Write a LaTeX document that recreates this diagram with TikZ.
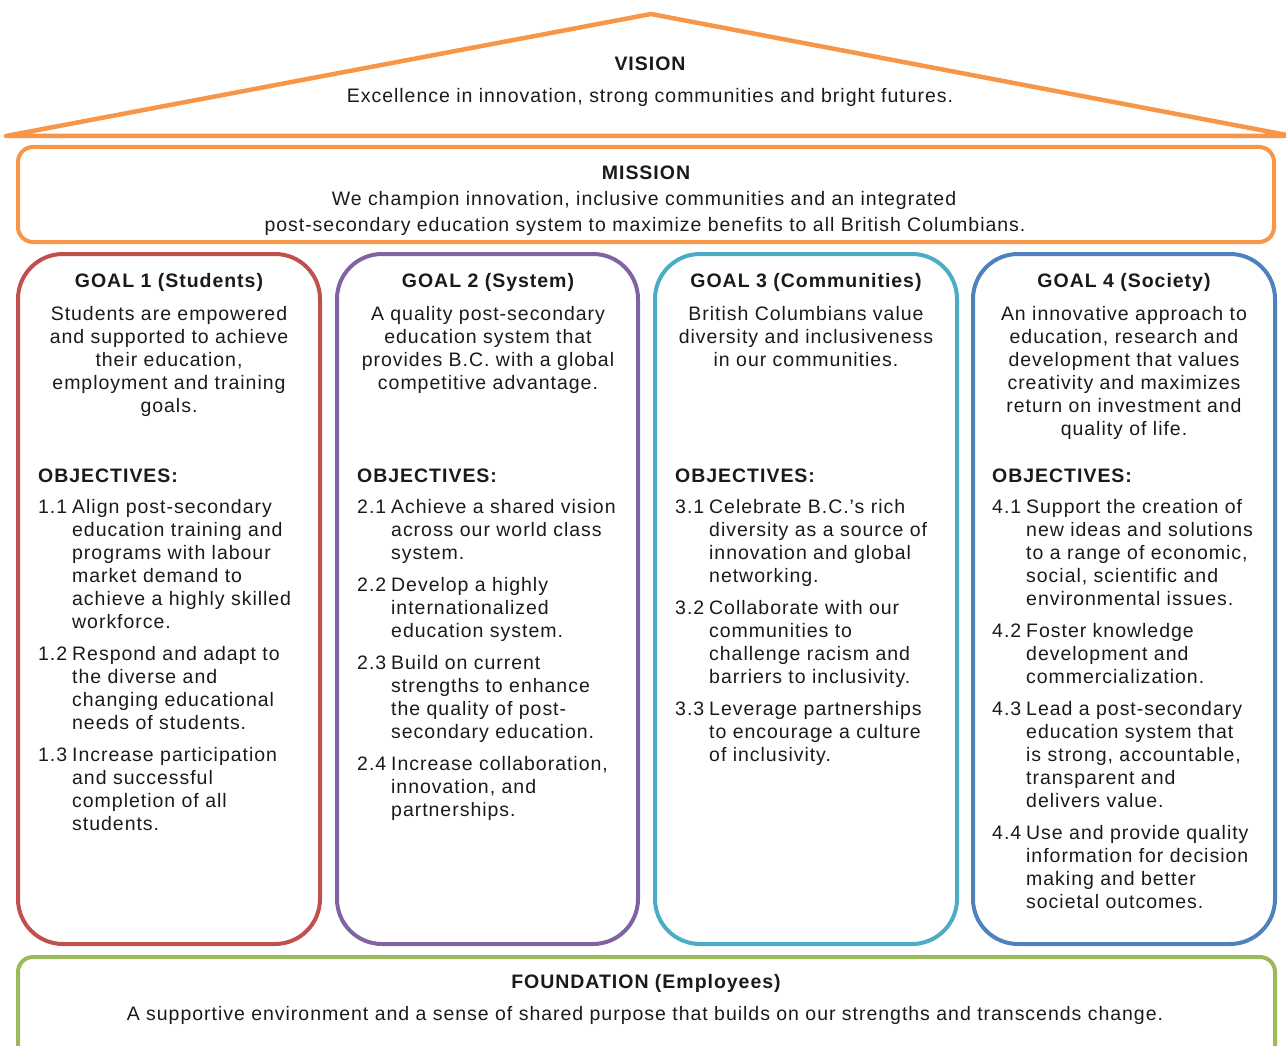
\documentclass[tikz,border=0pt]{standalone}
\usepackage{fontspec}
\setmainfont{Liberation Sans}[LetterSpace=5]
\definecolor{cOrange}{HTML}{F79646}
\definecolor{cRed}{HTML}{C0504D}
\definecolor{cPurple}{HTML}{8064A2}
\definecolor{cCyan}{HTML}{4BACC6}
\definecolor{cBlue}{HTML}{4F81BD}
\definecolor{cGreen}{HTML}{9BBB59}
\definecolor{ink}{HTML}{1A1A1A}
\tikzset{
  txt/.style={inner sep=0pt, font=\fontsize{19.5}{23}\selectfont, text=ink},
  btxt/.style={inner sep=0pt, font=\fontsize{19.5}{23}\selectfont\bfseries, text=ink},
  frame/.style={line width=4pt, rounded corners=15pt},
  goalframe/.style={line width=4pt, rounded corners=45pt},
}
% lines: name, x, y of first baseline, anchor, list of lines
\newcommand\txtlines[5]{%
  \foreach \t [count=\i from 0] in {#5}{%
    \node[txt, anchor=#4] (#1-\i) at ({#2},{#3+23*\i}) {\t};}}
% objective: name, x, y, number, lines
\newcommand\objective[5]{%
  \node[txt, anchor=base west] (#1-n) at ({#2},{#3}) {#4};
  \txtlines{#1}{#2+34}{#3}{base west}{#5}}
\begin{document}
\begin{tikzpicture}[x=1pt,y=-1pt]
\useasboundingbox (0,0) rectangle (1286,1046);
\clip (0,0) rectangle (1286,1046);

% ---------- roof ----------
\coordinate (roofL) at (6,136);
\coordinate (apex) at (651,14);
\coordinate (roofR) at (1292,136);
\draw[cOrange, line width=4.5pt, line join=round] (roofL) -- (apex) -- (roofR) -- cycle;
\node[btxt, anchor=base] (vision) at (650,71) {VISION};
\node[txt, anchor=base] (visiontxt) at (650,103) {Excellence in innovation, strong communities and bright futures.};

% ---------- mission ----------
\draw[frame, draw=cOrange] (18,147) rectangle (1274,242);
\node[btxt, anchor=base] (mission) at (646,179) {MISSION};
\node[txt, anchor=base] (mission1) at (644,205) {We champion innovation, inclusive communities and an integrated};
\node[txt, anchor=base] (mission2) at (645,231) {post-secondary education system to maximize benefits to all British Columbians.};

% ---------- goal frames ----------
\draw[goalframe, draw=cRed]    (18,254) rectangle (320,944);
\draw[goalframe, draw=cPurple] (337,254) rectangle (638,944);
\draw[goalframe, draw=cCyan]   (655,254) rectangle (957,944);
\draw[goalframe, draw=cBlue]   (973,254) rectangle (1275,944);

% ---------- goal 1 ----------
\node[btxt, anchor=base] (g1) at (169,287) {GOAL 1 (Students)};
\txtlines{g1d}{169}{320}{base}{Students are empowered, and supported to achieve, {their education,}, employment and training, goals.}
\node[btxt, anchor=base west] (g1o) at (38,482) {OBJECTIVES:};
\objective{o11}{38}{513}{1.1}{Align post-secondary, education training and, programs with labour, market demand to, achieve a highly skilled, workforce.}
\objective{o12}{38}{660}{1.2}{Respond and adapt to, the diverse and, changing educational, needs of students.}
\objective{o13}{38}{761}{1.3}{Increase participation, and successful, completion of all, students.}

% ---------- goal 2 ----------
\node[btxt, anchor=base] (g2) at (488,287) {GOAL 2 (System)};
\txtlines{g2d}{488}{320}{base}{A quality post-secondary, education system that, provides B.C. with a global, competitive advantage.}
\node[btxt, anchor=base west] (g2o) at (357,482) {OBJECTIVES:};
\objective{o21}{357}{513}{2.1}{Achieve a shared vision, across our world class, system.}
\objective{o22}{357}{591}{2.2}{Develop a highly, internationalized, education system.}
\objective{o23}{357}{669}{2.3}{Build on current, strengths to enhance, the quality of post-, secondary education.}
\objective{o24}{357}{770}{2.4}{{Increase collaboration,}, {innovation, and}, partnerships.}

% ---------- goal 3 ----------
\node[btxt, anchor=base] (g3) at (806,287) {GOAL 3 (Communities)};
\txtlines{g3d}{806}{320}{base}{British Columbians value, diversity and inclusiveness, in our communities.}
\node[btxt, anchor=base west] (g3o) at (675,482) {OBJECTIVES:};
\objective{o31}{675}{513}{3.1}{Celebrate B.C.'s rich, diversity as a source of, innovation and global, networking.}
\objective{o32}{675}{614}{3.2}{Collaborate with our, communities to, challenge racism and, barriers to inclusivity.}
\objective{o33}{675}{715}{3.3}{Leverage partnerships, to encourage a culture, of inclusivity.}

% ---------- goal 4 ----------
\node[btxt, anchor=base] (g4) at (1124,287) {GOAL 4 (Society)};
\txtlines{g4d}{1124}{320}{base}{An innovative approach to, {education, research and}, development that values, creativity and maximizes, return on investment and, quality of life.}
\node[btxt, anchor=base west] (g4o) at (992,482) {OBJECTIVES:};
\objective{o41}{992}{513}{4.1}{Support the creation of, new ideas and solutions, {to a range of economic,}, {social, scientific and}, environmental issues.}
\objective{o42}{992}{637}{4.2}{Foster knowledge, development and, commercialization.}
\objective{o43}{992}{715}{4.3}{Lead a post-secondary, education system that, {is strong, accountable,}, transparent and, delivers value.}
\objective{o44}{992}{839}{4.4}{Use and provide quality, information for decision, making and better, societal outcomes.}

% ---------- foundation ----------
\draw[frame, draw=cGreen] (18,957) rectangle (1275,1062);
\node[btxt, anchor=base] (found) at (646,988) {FOUNDATION (Employees)};
\node[txt, anchor=base] (foundtxt) at (645,1020) {A supportive environment and a sense of shared purpose that builds on our strengths and transcends change.};
\end{tikzpicture}
\end{document}
